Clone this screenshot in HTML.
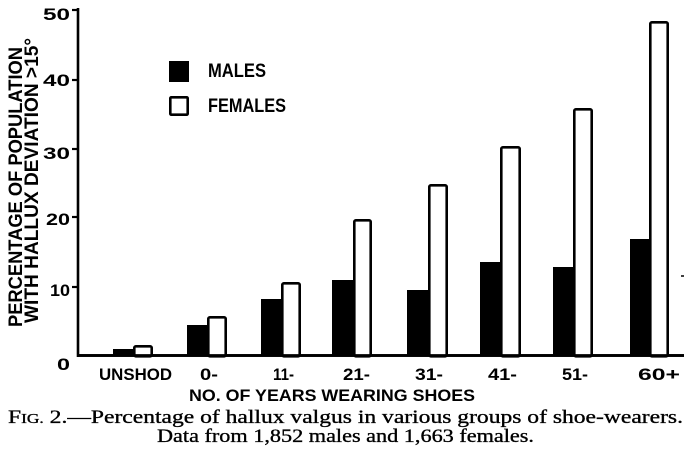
<!DOCTYPE html>
<html>
<head>
<meta charset="utf-8">
<style>
html,body{margin:0;padding:0;background:#fff;}
svg{display:block;}
.s{font-family:"Liberation Sans","DejaVu Sans",sans-serif;font-weight:bold;fill:#000;}
.r{font-family:"Liberation Serif","DejaVu Serif",serif;fill:#000;stroke:#000;stroke-width:0.35;}
</style>
</head>
<body>
<svg width="693" height="453" viewBox="0 0 693 453" xmlns="http://www.w3.org/2000/svg">
<rect width="693" height="453" fill="#fff"/>
<!-- axes -->
<line x1="78" y1="8" x2="78" y2="357" stroke="#000" stroke-width="2.6"/>
<line x1="77" y1="355.5" x2="684" y2="355.5" stroke="#000" stroke-width="2.8"/>
<g stroke="#000" stroke-width="2.2">
<line x1="72" y1="10" x2="78" y2="10"/>
<line x1="72" y1="80" x2="78" y2="80"/>
<line x1="72" y1="149" x2="78" y2="149"/>
<line x1="72" y1="217" x2="78" y2="217"/>
<line x1="72" y1="287" x2="78" y2="287"/>
</g>
<line x1="681" y1="276" x2="684" y2="276" stroke="#000" stroke-width="1.5"/>
<!-- y labels -->
<g class="s" font-size="17">
<text x="43" y="20" textLength="27" lengthAdjust="spacingAndGlyphs">50</text>
<text x="43" y="86" textLength="27" lengthAdjust="spacingAndGlyphs">40</text>
<text x="43" y="159" textLength="27" lengthAdjust="spacingAndGlyphs">30</text>
<text x="46" y="225" textLength="24" lengthAdjust="spacingAndGlyphs">20</text>
<text x="50" y="296" textLength="20" lengthAdjust="spacingAndGlyphs">10</text>
<text x="57" y="370" textLength="13" lengthAdjust="spacingAndGlyphs">0</text>
</g>
<!-- y title -->
<text class="s" font-size="19" transform="translate(22,327) rotate(-90)" textLength="280" lengthAdjust="spacingAndGlyphs">PERCENTAGE OF POPULATION</text>
<text class="s" font-size="19" transform="translate(38,323) rotate(-90)" textLength="285" lengthAdjust="spacingAndGlyphs">WITH HALLUX DEVIATION &gt;15°</text>
<!-- legend -->
<rect x="169" y="61" width="20" height="21" fill="#000"/>
<rect x="170.3" y="97.3" width="17.4" height="17.4" fill="#fff" stroke="#000" stroke-width="2.6" rx="1"/>
<text class="s" font-size="19" x="208" y="77" textLength="58" lengthAdjust="spacingAndGlyphs">MALES</text>
<text class="s" font-size="19" x="208" y="112" textLength="78" lengthAdjust="spacingAndGlyphs">FEMALES</text>
<!-- bars: male -->
<g fill="#000">
<rect x="113" y="349" width="21" height="7"/>
<rect x="187" y="325" width="21" height="31"/>
<rect x="261" y="299" width="21" height="57"/>
<rect x="332" y="280" width="22" height="76"/>
<rect x="407" y="290" width="22" height="66"/>
<rect x="480" y="262" width="22" height="94"/>
<rect x="553" y="267" width="22" height="89"/>
<rect x="630" y="239" width="22" height="117"/>
</g>
<!-- bars: female -->
<g fill="#fff" stroke="#000" stroke-width="2.6">
<rect x="134.3" y="346.3" width="17.4" height="10" rx="1.5"/>
<rect x="208.3" y="317.3" width="17.4" height="39" rx="1.5"/>
<rect x="282.3" y="283.3" width="17.4" height="73" rx="1.5"/>
<rect x="354.3" y="220.3" width="16.4" height="136" rx="1.5"/>
<rect x="429.3" y="185.3" width="17.4" height="171" rx="1.5"/>
<rect x="501.3" y="147.3" width="18.4" height="209" rx="1.5"/>
<rect x="574.3" y="109.3" width="17.4" height="247" rx="1.5"/>
<rect x="650.3" y="22.3" width="17.4" height="334" rx="1.5"/>
</g>
<!-- redraw baseline over bars -->
<line x1="77" y1="355.5" x2="684" y2="355.5" stroke="#000" stroke-width="2.8"/>
<!-- x labels -->
<g class="s" font-size="17">
<text x="99" y="380" textLength="73" lengthAdjust="spacingAndGlyphs">UNSHOD</text>
<text x="200" y="380" textLength="18" lengthAdjust="spacingAndGlyphs">0-</text>
<text x="273" y="380" textLength="21" lengthAdjust="spacingAndGlyphs">11-</text>
<text x="343" y="380" textLength="27" lengthAdjust="spacingAndGlyphs">21-</text>
<text x="415" y="380" textLength="28" lengthAdjust="spacingAndGlyphs">31-</text>
<text x="488" y="380" textLength="29" lengthAdjust="spacingAndGlyphs">41-</text>
<text x="562" y="380" textLength="26" lengthAdjust="spacingAndGlyphs">51-</text>
<text x="638" y="380" textLength="42" lengthAdjust="spacingAndGlyphs">60+</text>
<text x="189" y="401" textLength="286" lengthAdjust="spacingAndGlyphs">NO. OF YEARS WEARING SHOES</text>
</g>
<!-- caption -->
<text class="r" font-size="19" x="8" y="423" textLength="675" lengthAdjust="spacingAndGlyphs">F<tspan font-size="14">IG.</tspan> 2.—Percentage of hallux valgus in various groups of shoe-wearers.</text>
<text class="r" font-size="19" x="157" y="442" textLength="377" lengthAdjust="spacingAndGlyphs">Data from 1,852 males and 1,663 females.</text>
</svg>
</body>
</html>
